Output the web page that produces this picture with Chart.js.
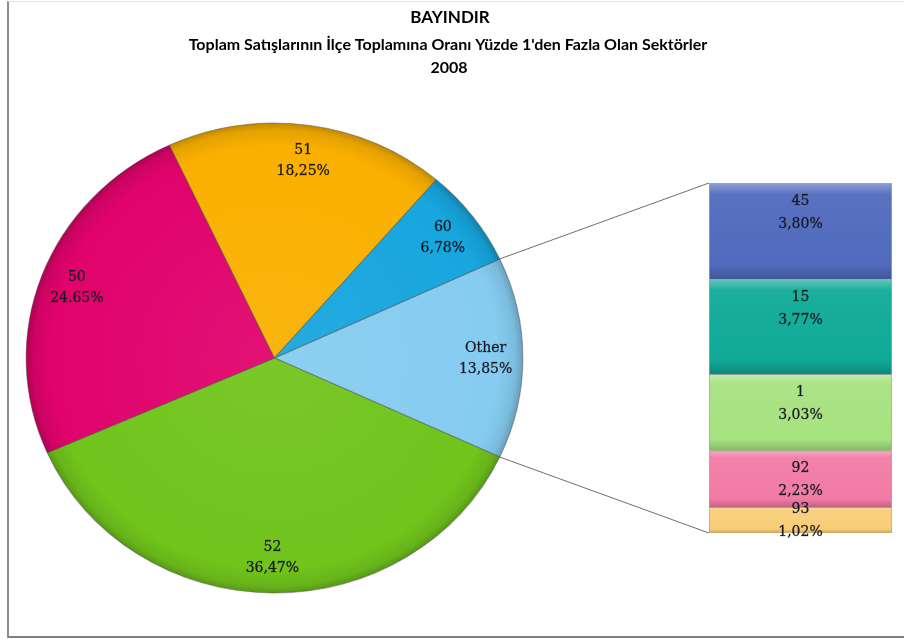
<!DOCTYPE html>
<html>
<head>
<meta charset="utf-8">
<script src="https://cdn.jsdelivr.net/npm/chart.js@4.4.0/dist/chart.umd.min.js"></script>
<style>
  body { margin: 0; background: #fff; }
  #frame { position: absolute; left: 7px; top: 1px; width: 897px; height: 637px; box-sizing: border-box;
           border-left: 2px solid #8c8c8c; border-bottom: 2px solid #7f7f7f; border-top: 1px solid #e6e6e6; }
  #pie { position: absolute; left: 0; top: 0; }
  #bar { position: absolute; left: 699px; top: 173px; }
</style>
</head>
<body>
<div id="frame"></div>
<canvas id="pie" width="904" height="639"></canvas>
<canvas id="bar" width="200" height="375"></canvas>
<script>
const titleLines = ['BAYINDIR', "Toplam Satışlarının İlçe Toplamına Oranı Yüzde 1'den Fazla Olan Sektörler", '2008'];

// ana pasta, saat yönünde ("Other" sağda)
const pieLabels = ['Other', '52', '50', '51', '60'];
const pieValues = [13.85, 36.47, 24.65, 18.25, 6.78];
const pieColors = ['#86ccf0', '#70c41c', '#e0036c', '#f9b000', '#17a6de'];
const pieDecimal = [',', ',', '.', ',', ','];

// "Other" dilimi, yukarıdan aşağıya
const barLabels = ['45', '15', '1', '92', '93'];
const barValues = [3.80, 3.77, 3.03, 2.23, 1.02];
const barColors = ['#506bbd', '#0faa97', '#a7e280', '#f27ba5', '#f8cd78'];

const SX = 1.057; // orijinal resim yatayda biraz basık
const BAR_LEFT = 699, BAR_TOP = 173;
const PIE_R = 235;
const labelFont = '14px "DejaVu Serif"';
const fmt = (v, sep) => v.toFixed(2).replace('.', sep || ',') + '%';

// renk açma/koyulaştırma (t>0 beyaza, t<0 siyaha)
function shade(hex, t) {
    const n = parseInt(hex.slice(1), 16);
    const c = [n >> 16, (n >> 8) & 255, n & 255].map(v =>
        Math.round(t > 0 ? v + (255 - v) * t : v * (1 + t)));
    return 'rgb(' + c.join(',') + ')';
}

function label(ctx, text, x, y) {
    ctx.strokeText(text, x, y);
    ctx.fillText(text, x, y);
}

function labelStyle(ctx) {
    ctx.font = labelFont;
    ctx.fillStyle = '#171722';
    ctx.strokeStyle = 'rgba(23,23,34,0.5)';
    ctx.lineWidth = 0.5;
    ctx.textAlign = 'center';
    ctx.textBaseline = 'middle';
}

// --- sağdaki yığılmış sütun ---
const barSets = barLabels.map((l, i) => ({
    label: l,
    data: [barValues[i]],
    backgroundColor(c) {
        const bar = c.chart.getDatasetMeta(c.datasetIndex).data[0];
        if (!bar || isNaN(bar.y)) return barColors[i];
        const top = Math.min(bar.y, bar.base), bot = Math.max(bar.y, bar.base);
        const g = c.chart.ctx.createLinearGradient(0, top, 0, bot);
        g.addColorStop(0, shade(barColors[i], 0.35));
        g.addColorStop(0.12, shade(barColors[i], 0.05));
        g.addColorStop(0.85, barColors[i]);
        g.addColorStop(1, shade(barColors[i], -0.2));
        return g;
    },
    borderColor: 'rgba(80,80,80,0.5)',
    borderWidth: 1
})).reverse();
const barMax = barSets.reduce((s, d) => s + d.data[0], 0);

const barText = {
    id: 'barText',
    afterDatasetsDraw(chart) {
        const ctx = chart.ctx;
        ctx.save();
        labelStyle(ctx);
        chart.data.datasets.forEach((ds, i) => {
            const bar = chart.getDatasetMeta(i).data[0];
            const top = Math.min(bar.y, bar.base);
            const h = Math.abs(bar.base - bar.y);
            const cy = top + Math.min(h / 2, 29);
            label(ctx, ds.label, bar.x, cy - 11);
            label(ctx, fmt(ds.data[0]), bar.x, cy + 12);
        });
        ctx.restore();
    }
};

const barChart = new Chart(document.getElementById('bar'), {
    type: 'bar',
    data: { labels: [''], datasets: barSets },
    options: {
        responsive: false,
        animation: false,
        layout: { padding: { left: 10, right: 7, top: 10, bottom: 15 } },
        datasets: { bar: { barPercentage: 1, categoryPercentage: 1 } },
        scales: {
            x: { display: false, stacked: true },
            y: { display: false, stacked: true, min: 0, max: barMax }
        },
        plugins: { legend: { display: false }, tooltip: { enabled: false } }
    },
    plugins: [barText]
});
barChart.update();

// --- pasta ---
const pieTitle = {
    id: 'pieTitle',
    afterDraw(chart) {
        const ctx = chart.ctx;
        ctx.save();
        ctx.fillStyle = '#000';
        ctx.textAlign = 'center';
        ctx.textBaseline = 'middle';
        ctx.font = 'bold 17px Lato';
        ctx.fillText(titleLines[0], 450, 18);
        ctx.font = 'bold 16px Lato';
        ctx.fillText(titleLines[1], 448, 45);
        ctx.fillText(titleLines[2], 449, 68);
        ctx.restore();
    }
};

const stretch = {
    id: 'stretch',
    beforeDatasetsDraw(chart) {
        const a = chart.getDatasetMeta(0).data[0];
        chart.ctx.save();
        chart.ctx.translate(a.x, a.y);
        chart.ctx.scale(SX, 1);
        chart.ctx.translate(-a.x, -a.y);
    },
    afterDatasetsDraw(chart) {
        chart.ctx.restore();
        const ctx = chart.ctx;
        ctx.save();
        labelStyle(ctx);
        chart.getDatasetMeta(0).data.forEach((arc, i) => {
            const mid = (arc.startAngle + arc.endAngle) / 2;
            const r = arc.outerRadius * 0.85;
            const px = arc.x + Math.cos(mid) * r * SX;
            const py = arc.y + Math.sin(mid) * r;
            label(ctx, pieLabels[i], px, py - 10);
            label(ctx, fmt(pieValues[i], pieDecimal[i]), px, py + 11);
        });
        // "Other" dilimini sütuna bağlayan çizgiler
        const other = chart.getDatasetMeta(0).data[0];
        const n = barChart.data.datasets.length;
        const topBar = barChart.getDatasetMeta(n - 1).data[0];
        const botBar = barChart.getDatasetMeta(0).data[0];
        const bx = BAR_LEFT + topBar.x - topBar.width / 2;
        ctx.strokeStyle = '#6e6e6e';
        ctx.lineWidth = 1;
        ctx.beginPath();
        ctx.moveTo(other.x + Math.cos(other.startAngle) * other.outerRadius * SX,
                   other.y + Math.sin(other.startAngle) * other.outerRadius);
        ctx.lineTo(bx, BAR_TOP + topBar.y);
        ctx.moveTo(other.x + Math.cos(other.endAngle) * other.outerRadius * SX,
                   other.y + Math.sin(other.endAngle) * other.outerRadius);
        ctx.lineTo(bx, BAR_TOP + botBar.base);
        ctx.stroke();
        ctx.restore();
    }
};

new Chart(document.getElementById('pie'), {
    type: 'pie',
    data: {
        labels: pieLabels,
        datasets: [{
            data: pieValues,
            backgroundColor(c) {
                const base = pieColors[c.dataIndex];
                const area = c.chart.chartArea;
                if (!area) return base;
                const cx = (area.left + area.right) / 2, cy = (area.top + area.bottom) / 2;
                const g = c.chart.ctx.createRadialGradient(cx, cy, 0, cx, cy, PIE_R);
                g.addColorStop(0, shade(base, 0.06));
                g.addColorStop(0.9, base);
                g.addColorStop(0.97, shade(base, -0.08));
                g.addColorStop(1, shade(base, -0.22));
                return g;
            },
            borderColor: 'rgba(70,70,70,0.45)',
            borderWidth: 1
        }]
    },
    options: {
        responsive: false,
        animation: false,
        radius: PIE_R,
        rotation: 90 - pieValues[0] * 3.6 / 2,
        layout: { padding: { left: 20, right: 375, top: 80, bottom: 3 } },
        plugins: { legend: { display: false }, tooltip: { enabled: false } }
    },
    plugins: [stretch, pieTitle]
});
</script>
</body>
</html>
